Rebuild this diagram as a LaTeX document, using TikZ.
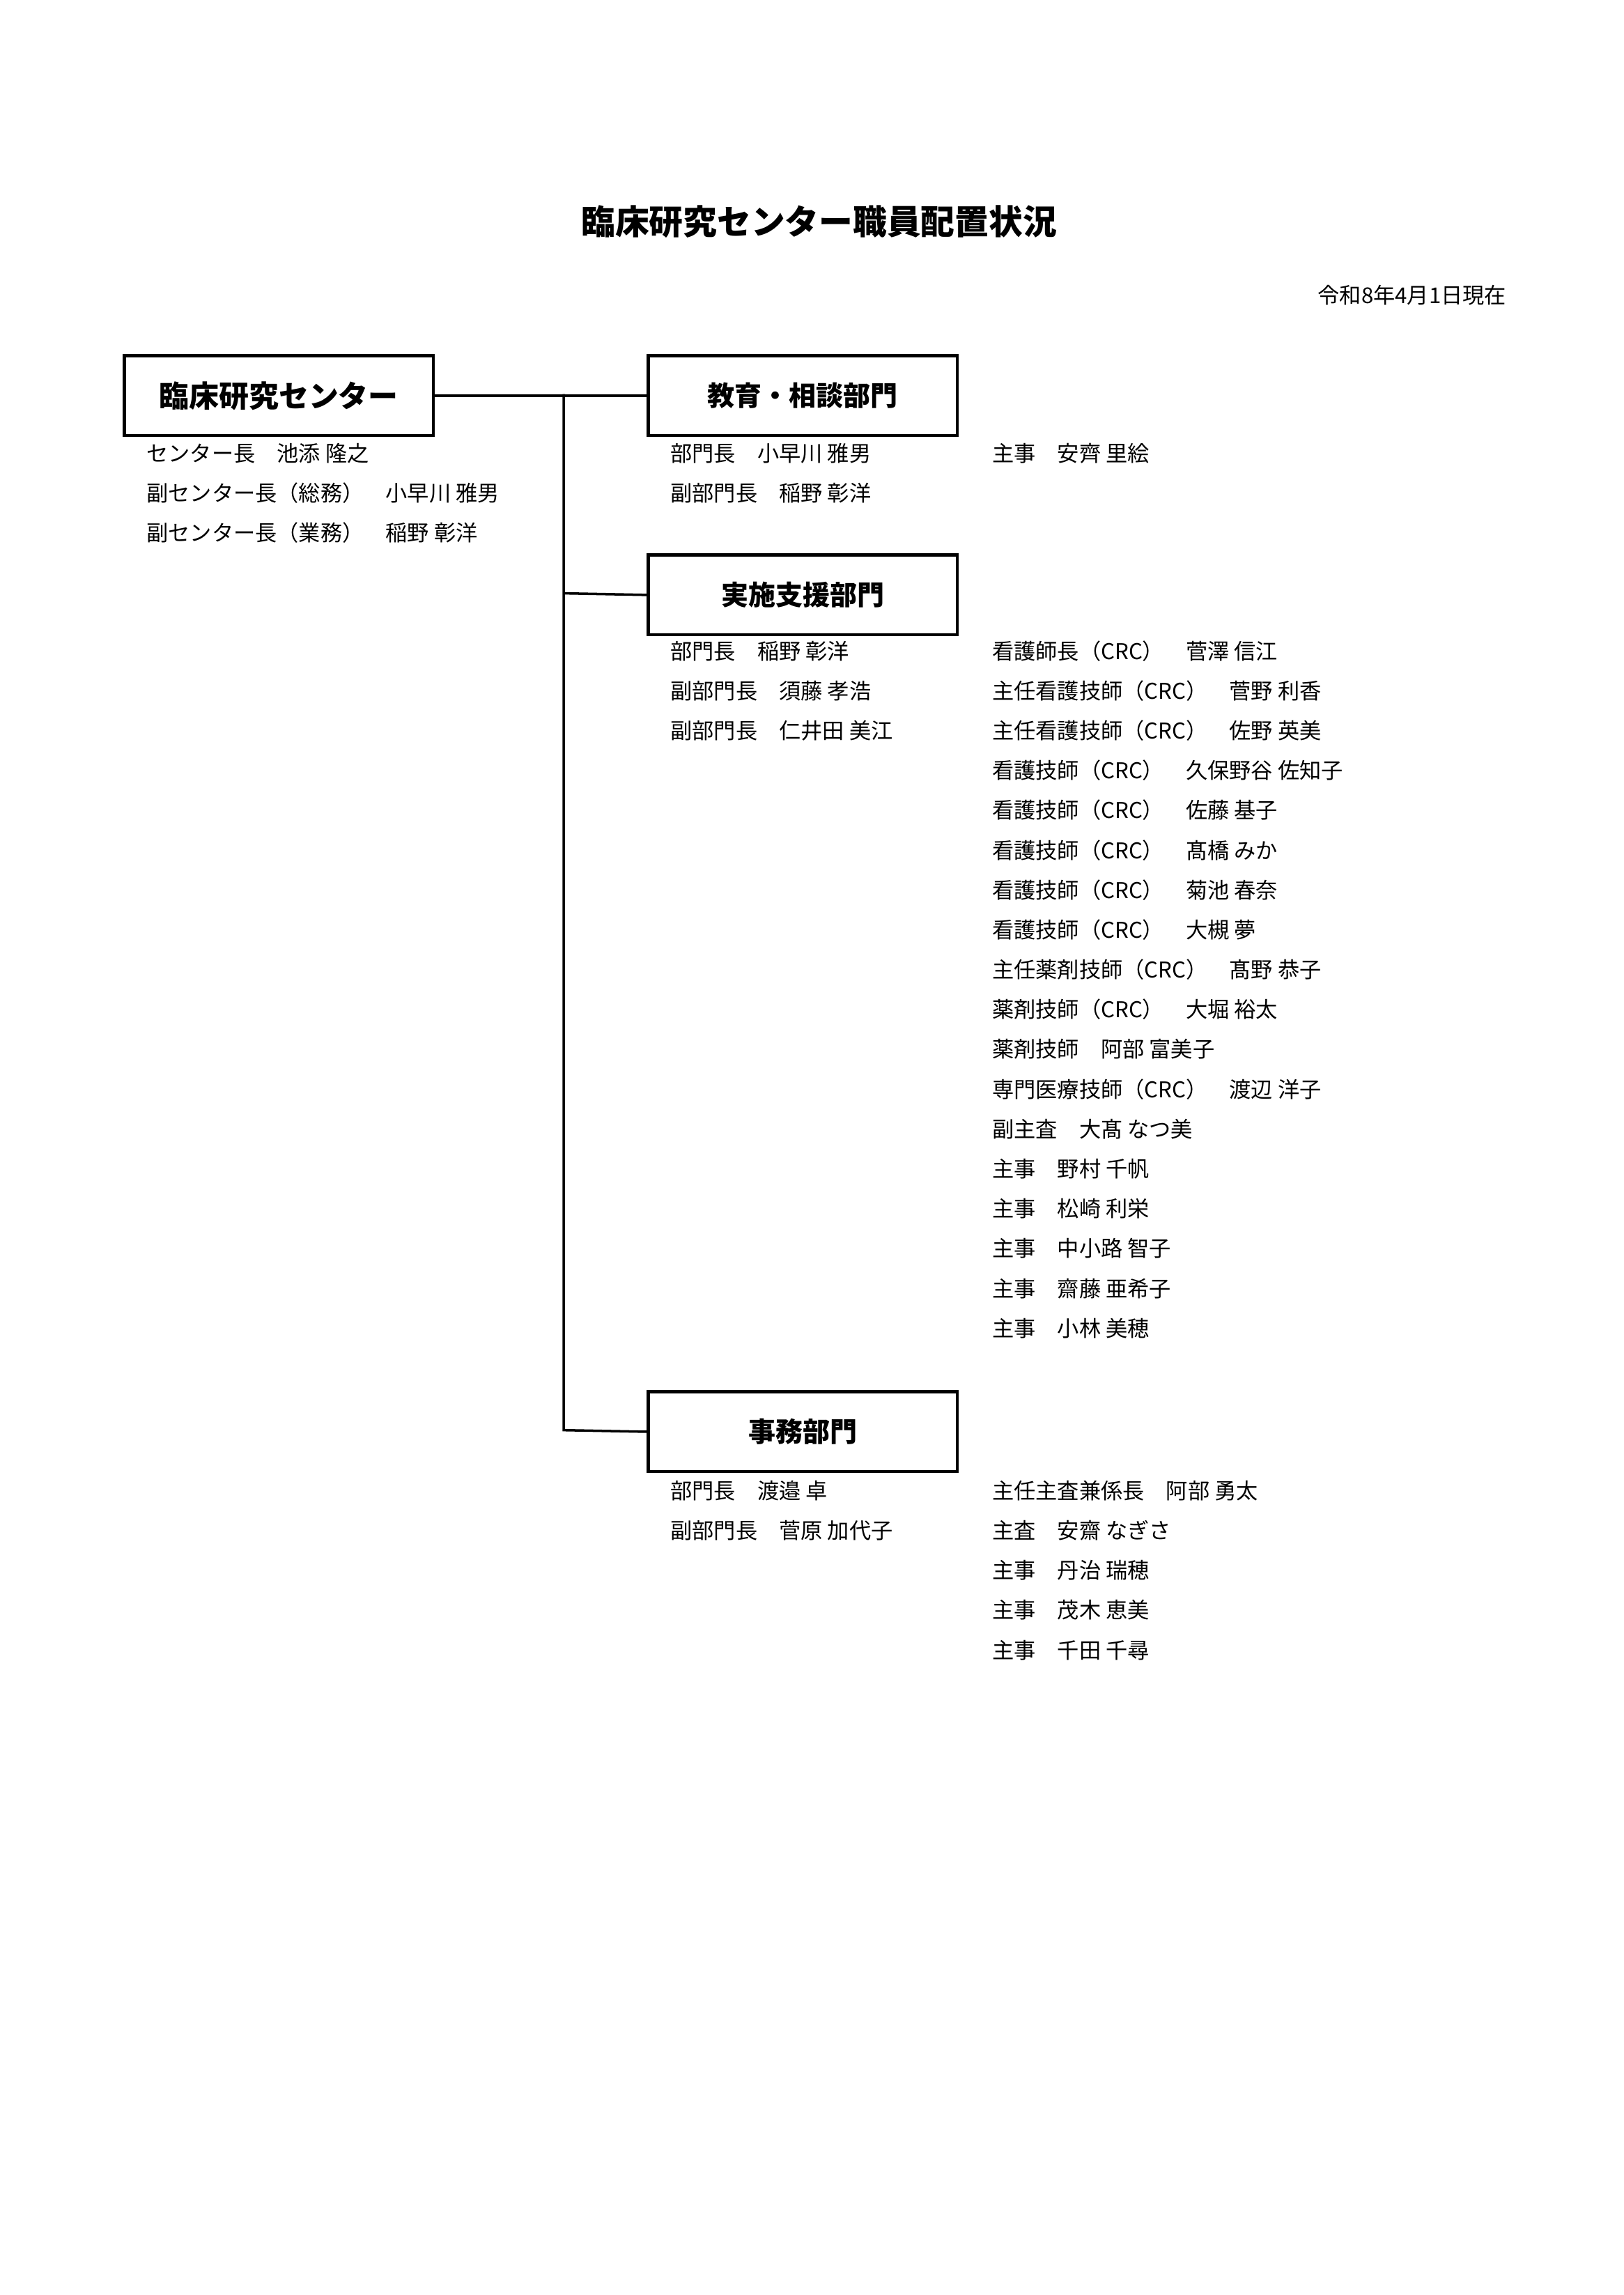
\documentclass[tikz,border=0pt]{standalone}
\usepackage{fontspec}
\setmainfont{Noto Sans CJK JP}
\usetikzlibrary{positioning}
\tikzset{
  unitbox/.style={draw, line width=1.2pt, minimum width=4.0cm, minimum height=1.03cm, inner sep=0pt, font=\bfseries\fontsize{10}{12}\selectfont},
  staff/.style={anchor=west, inner sep=0pt, font=\fontsize{8}{10}\selectfont},
  link/.style={line width=0.9pt}
}
\begin{document}
\begin{tikzpicture}[x=0.01909cm, y=-0.01909cm]

    % page
    \useasboundingbox (0,0) rectangle (1100,1555);

    \node[font=\bfseries\fontsize{12.5}{14}\selectfont] (title) at (555,150) {臨床研究センター職員配置状況};
    \node[anchor=east, inner sep=0pt, font=\fontsize{8}{10}\selectfont] (date) at (1021,200) {令和8年4月1日現在};

    % boxes
    \node[unitbox, anchor=north west, font=\bfseries\fontsize{11}{13}\selectfont] (center) at (83,240) {臨床研究センター};
    \node[unitbox, anchor=north west] (edu) at (438,240) {教育・相談部門};
    \node[unitbox, anchor=north west] (sup) at (438,375) {実施支援部門};
    \node[unitbox, anchor=north west] (adm) at (438,942) {事務部門};

    % tree
    \coordinate (j1) at (382,267);
    \coordinate (j2) at (382,402);
    \coordinate (j3) at (382,969);
    \draw[link] (center.east) -- (edu.west);
    \draw[link] (j1) -- (j3) -- (adm.west);
    \draw[link] (j2) -- (sup.west);

    % center staff
    \foreach \t [count=\i] in {センター長　池添 隆之, 副センター長（総務）　小早川 雅男, 副センター長（業務）　稲野 彰洋}
        \node[staff] (c\i) at (99,{307+27*(\i-1)}) {\t};

    % edu staff
    \foreach \t [count=\i] in {部門長　小早川 雅男, 副部門長　稲野 彰洋}
        \node[staff] (e\i) at (454,{307+27*(\i-1)}) {\t};
    \node[staff] (ea1) at (672,307) {主事　安齊 里絵};

    % support staff
    \foreach \t [count=\i] in {部門長　稲野 彰洋, 副部門長　須藤 孝浩, 副部門長　仁井田 美江}
        \node[staff] (s\i) at (454,{441+27*(\i-1)}) {\t};
    \foreach \t [count=\i] in {看護師長（CRC）　菅澤 信江, 主任看護技師（CRC）　菅野 利香, 主任看護技師（CRC）　佐野 英美,
        看護技師（CRC）　久保野谷 佐知子, 看護技師（CRC）　佐藤 基子, 看護技師（CRC）　髙橋 みか,
        看護技師（CRC）　菊池 春奈, 看護技師（CRC）　大槻 夢, 主任薬剤技師（CRC）　髙野 恭子,
        薬剤技師（CRC）　大堀 裕太, 薬剤技師　阿部 富美子, 専門医療技師（CRC）　渡辺 洋子,
        副主査　大髙 なつ美, 主事　野村 千帆, 主事　松崎 利栄, 主事　中小路 智子,
        主事　齋藤 亜希子, 主事　小林 美穂}
        \node[staff] (sa\i) at (672,{441+27*(\i-1)}) {\t};

    % admin staff
    \foreach \t [count=\i] in {部門長　渡邉 卓, 副部門長　菅原 加代子}
        \node[staff] (a\i) at (454,{1010+27*(\i-1)}) {\t};
    \foreach \t [count=\i] in {主任主査兼係長　阿部 勇太, 主査　安齋 なぎさ, 主事　丹治 瑞穂, 主事　茂木 恵美, 主事　千田 千尋}
        \node[staff] (aa\i) at (672,{1010+27*(\i-1)}) {\t};

\end{tikzpicture}
\end{document}
